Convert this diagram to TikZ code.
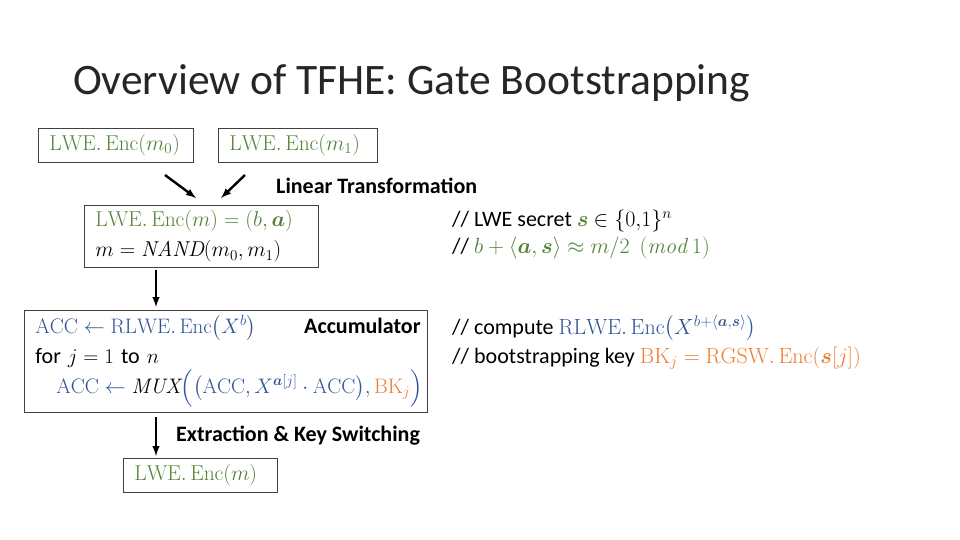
\RequirePackage{fix-cm}
\documentclass[tikz,border=0pt]{standalone}
\usepackage{amsmath}
\usepackage{bm}
\usepackage{fontspec}
\usepackage{tikz}
\usetikzlibrary{calc}
\usetikzlibrary{positioning}
\usetikzlibrary{arrows}
\newfontfamily\carlito{Carlito}
\definecolor{lwegreen}{RGB}{84,130,53}
\definecolor{rlweblue}{RGB}{47,85,151}
\definecolor{bkorange}{RGB}{237,125,49}
\definecolor{boxgray}{RGB}{64,64,64}
\definecolor{titlegray}{RGB}{38,38,38}

\begin{document}
\begin{tikzpicture}[x=1pt, y=-1pt, >=latex, node distance=6pt,
encbox/.style={draw=boxgray, line width=0.8pt, anchor=north west, inner xsep=11pt, inner ysep=2pt, align=left, font=\fontsize{21.5}{30}\selectfont},
tag/.style={font=\carlito\bfseries\fontsize{22}{26}\selectfont, inner sep=0pt},
note/.style={font=\carlito\fontsize{22}{26}\selectfont, anchor=base west, inner sep=0pt},
flow/.style={->, line width=2.4pt}]

\useasboundingbox (0,0) rectangle (960,540);

\node [anchor=base west, inner sep=0pt, text=titlegray, font=\carlito\fontsize{43.5}{52}\selectfont] (title) at (73,95) {Overview of TFHE: Gate Bootstrapping};

% input ciphertexts
\node [encbox, text width=133, minimum height=34] (m0) at (38,128) {\color{lwegreen}$\mathrm{LWE.\,Enc}(m_0)$};
\node [encbox, text width=137, minimum height=34] (m1) at (218,128) {\color{lwegreen}$\mathrm{LWE.\,Enc}(m_1)$};

\coordinate (a0s) at (165,175);
\coordinate (a0e) at (196,198);
\coordinate (a1s) at (245,175);
\coordinate (a1e) at (221,198);
\draw [flow] (a0s) -- (a0e);
\draw [flow] (a1s) -- (a1e);
\node [tag, anchor=west] (lin) at (276,186) {Linear Transformation};

\node [encbox, text width=212, minimum height=62] (lt) at (84,205) {{\color{lwegreen}$\mathrm{LWE.\,Enc}(m) = (b,\bm{a})$}\\ $m = \mathit{NAND}(m_0,m_1)$};

\node [note] (c1) at (452,226) {// LWE secret {\color{lwegreen}$\bm{s}$} $\in \{0{,}1\}^n$};
\node [note] (c2) at (452,253) {// {\color{lwegreen}$b + \langle\bm{a},\bm{s}\rangle \approx m/2\ \ (\mathit{mod}\ 1)$}};

% accumulator
\coordinate (d1s) at (156,270);
\coordinate (d1e) at (156,307);
\draw [flow] (d1s) -- (d1e);

\node [encbox, text width=381, minimum height=102, font=\fontsize{21}{30}\selectfont] (acc) at (24,310) {{\color{rlweblue}$\mathrm{ACC} \leftarrow \mathrm{RLWE.\,Enc}\bigl(X^b\bigr)$}\\
{\carlito\fontsize{22}{30}\selectfont for} $j = 1$ {\carlito\fontsize{22}{30}\selectfont to} $n$\\
\hspace*{21pt}\mbox{$\color{rlweblue}\mathrm{ACC} \leftarrow {\color{black}\mathit{MUX}}\Bigl(\bigl(\mathrm{ACC}, X^{\bm{a}[j]}\cdot\mathrm{ACC}\bigr),{\color{bkorange}\mathrm{BK}_j}\Bigr)$}};
\node [tag, below left=8pt and 7pt of acc.north east] (accl) {Accumulator};

\node [note] (c3) at (452,334) {// compute {\color{rlweblue}$\mathrm{RLWE.\,Enc}\bigl(X^{b+\langle\bm{a},\bm{s}\rangle}\bigr)$}};
\node [note] (c4) at (452,363) {// bootstrapping key {\color{bkorange}$\mathrm{BK}_j = \mathrm{RGSW.\,Enc}(\bm{s}[j])$}};

% extraction
\coordinate (d2s) at (156,417);
\coordinate (d2e) at (156,456);
\draw [flow] (d2s) -- (d2e);
\node [tag, anchor=west] (ext) at (176,436) {Extraction \& Key Switching};

\node [encbox, text width=132, minimum height=34] (out) at (123,458) {\color{lwegreen}$\mathrm{LWE.\,Enc}(m)$};

\end{tikzpicture}
\end{document}
